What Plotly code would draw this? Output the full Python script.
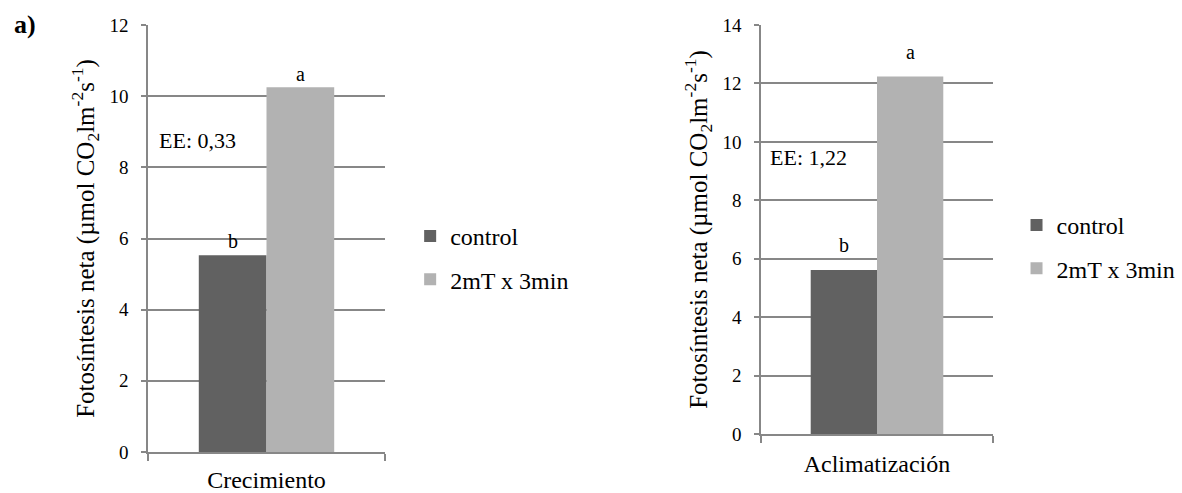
import plotly.graph_objects as go

# Net photosynthesis per growth phase, control vs. magnetic treatment
categories = ["Crecimiento", "Aclimatización"]
series_names = ["control", "2mT x 3min"]
control = [5.53, 5.61]
treated = [10.25, 12.24]
letters_control = ["b", "b"]
letters_treated = ["a", "a"]
ee_labels = ["EE: 0,33", "EE: 1,22"]
y_max = [12, 14]
y_ticks = [[0, 2, 4, 6, 8, 10, 12], [0, 2, 4, 6, 8, 10, 12, 14]]

colors = ["#616161", "#b2b2b2"]
grid = "#878787"
serif = "Liberation Serif"
W, H = 1182, 493


def f(size, **kw):
    return dict(family=serif, size=size, color="black", **kw)


# panel geometry in pixels: (left, right, top, bottom)
panels = [(148, 385, 25, 452), (761, 993, 25, 434)]
legend_pos = [(0.347, 1 - 214 / H), (0.860, 1 - 203 / H)]
letter_shift = [(1, 0), (12, 11)]
ee_pos = [(0.036, 0.73), (0.03, 0.677)]

bar_w = 1 / 3.5  # Excel-like gap width of 150%
ytitle = "Fotosíntesis neta (µmol CO<sub>2</sub>lm<sup>-2</sup>s<sup>-1</sup>)"

fig = go.Figure()
layout = dict(
    width=W, height=H,
    margin=dict(l=0, r=0, t=0, b=0, autoexpand=False),
    paper_bgcolor="white", plot_bgcolor="white",
    barmode="overlay",
    font=f(18),
    annotations=[], showlegend=True,
)

for i, cat in enumerate(categories):
    sfx = "" if i == 0 else str(i + 1)
    xa, ya = "x" + sfx, "y" + sfx
    leg = "legend" + sfx
    l, r, t, b = panels[i]

    for j, (vals, name) in enumerate(zip([control, treated], series_names)):
        fig.add_trace(go.Bar(
            x=[0.5], y=[vals[i]], name=name,
            width=[bar_w], offset=-bar_w if j == 0 else 0,
            marker=dict(color=colors[j], line=dict(width=0)),
            xaxis=xa, yaxis=ya, legend=leg, legendgroup=f"{leg}-{j}",
            hoverinfo="skip",
        ))

    layout["xaxis" + sfx] = dict(
        domain=[l / W, r / W], range=[0, 1], anchor=ya, automargin=False,
        tickvals=[0, 1], ticktext=["", ""], ticks="outside", ticklen=7,
        tickcolor=grid, tickwidth=1.5, showline=True, linecolor=grid,
        linewidth=1.5, showgrid=False, zeroline=False, fixedrange=True,
        tickfont=f(18),
        title=dict(text=cat, font=f(24), standoff=10),
    )
    layout["yaxis" + sfx] = dict(
        domain=[1 - b / H, 1 - t / H], range=[0, y_max[i]], anchor=xa,
        automargin=False,
        tickvals=y_ticks[i], ticks="outside", ticklen=5, tickcolor=grid,
        tickwidth=1.5, showline=True, linecolor=grid, linewidth=1.5,
        showgrid=True, gridcolor=grid, gridwidth=1.5, zeroline=False,
        tickfont=f(19), ticklabelstandoff=9, fixedrange=True,
        title=dict(text=ytitle, font=f(25), standoff=8),
    )
    layout[leg] = dict(
        x=legend_pos[i][0], y=legend_pos[i][1], xanchor="left", yanchor="top",
        traceorder="grouped", tracegroupgap=9, bgcolor="rgba(0,0,0,0)",
        font=f(24), itemwidth=30,
    )

    cx_c = 0.5 - bar_w / 2
    cx_t = 0.5 + bar_w / 2
    layout["annotations"] += [
        dict(x=cx_c, y=control[i], xref=xa, yref=ya, text=letters_control[i],
             showarrow=False, yanchor="bottom", yshift=letter_shift[i][0],
             font=f(20)),
        dict(x=cx_t, y=treated[i], xref=xa, yref=ya, text=letters_treated[i],
             showarrow=False, yanchor="bottom", yshift=letter_shift[i][1],
             font=f(20)),
        dict(x=ee_pos[i][0], y=ee_pos[i][1], xref=xa + " domain",
             yref=ya + " domain", text=ee_labels[i], showarrow=False,
             xanchor="left", yanchor="middle", font=f(22)),
    ]

layout["annotations"].append(dict(
    x=12 / W, y=1 - 25 / H, xref="paper", yref="paper", text="<b>a)</b>",
    showarrow=False, xanchor="left", yanchor="middle", font=f(26),
))

fig.update_layout(**layout)
fig.write_html("out.html")
